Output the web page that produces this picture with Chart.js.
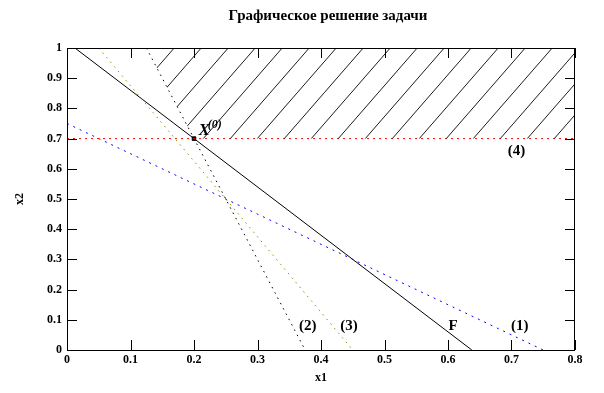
<!DOCTYPE html>
<html>
<head>
<meta charset="utf-8">
<script src="https://cdn.jsdelivr.net/npm/chart.js@4.4.1/dist/chart.umd.min.js"></script>
<style>
  html, body { margin: 0; padding: 0; background: #fff; }
  #wrap { width: 604px; height: 393px; position: relative; }
</style>
</head>
<body>
<div id="wrap"><canvas id="c"></canvas></div>
<script>
// ── Data ─────────────────────────────────────────────────────
const titleText = 'Графическое решение задачи';
const xTitle = 'x1';
const yTitle = 'x2';

// constraint lines, endpoints on the frame
const line1 = [{ x: 0, y: 0.75 }, { x: 0.75, y: 0 }];       // (1) blue
const line2 = [{ x: 0.125, y: 1 }, { x: 0.375, y: 0 }];     // (2) black dotted
const line3 = [{ x: 0.05, y: 1 }, { x: 0.45, y: 0 }];       // (3) olive
const line4 = [{ x: 0, y: 0.7 }, { x: 0.8, y: 0.7 }];       // (4) red
const lineF = [{ x: 0.0125, y: 1 }, { x: 0.6375, y: 0 }];   // F objective

// feasible region boundary (hatched above it)
const regionEdge = [{ x: 0.125, y: 1 }, { x: 0.2, y: 0.7 }, { x: 0.8, y: 0.7 }];

// optimum point X(0)
const optimum = [{ x: 0.2, y: 0.7 }];

// line labels
const labelText = ['(1)', '(2)', '(3)', '(4)', 'F'];
const labelX = [0.713, 0.379, 0.444, 0.708, 0.608];
const labelY = [0.080, 0.080, 0.080, 0.657, 0.080];

const xMin = 0, xMax = 0.8, xStep = 0.1;
const yMin = 0, yMax = 1, yStep = 0.1;

// ── Hatch pattern ───────────────────────────────────────────
function makeHatch() {
  const W = 27, H = 31;
  const cv = document.createElement('canvas');
  cv.width = W; cv.height = H;
  const g = cv.getContext('2d');
  g.strokeStyle = '#000';
  g.lineWidth = 0.9;
  g.beginPath();
  g.moveTo(-1, H + H / W);
  g.lineTo(W + 1, -H / W);
  g.stroke();
  return g.createPattern(cv, 'repeat');
}

const SERIF = "'Liberation Serif', 'Times New Roman', serif";

// ── Frame, inward ticks, title and labels ───────────────────
const decor = {
  id: 'decor',
  afterDatasetsDraw(chart) {
    const { ctx, chartArea: a, scales: { x, y } } = chart;
    ctx.save();
    ctx.strokeStyle = '#000';
    ctx.lineWidth = 1;
    ctx.strokeRect(a.left + 0.5, a.top + 0.5, a.right - a.left - 1, a.bottom - a.top);
    ctx.beginPath();
    x.ticks.forEach(t => {
      const px = Math.round(x.getPixelForValue(t.value)) + 0.5;
      ctx.moveTo(px, a.bottom); ctx.lineTo(px, a.bottom - 10);
      ctx.moveTo(px, a.top); ctx.lineTo(px, a.top + 10);
    });
    y.ticks.forEach(t => {
      const py = Math.round(y.getPixelForValue(t.value)) + 0.5;
      ctx.moveTo(a.left, py); ctx.lineTo(a.left + 10, py);
      ctx.moveTo(a.right, py); ctx.lineTo(a.right - 10, py);
    });
    ctx.stroke();

    // line labels
    ctx.fillStyle = '#000';
    ctx.font = 'bold 15px ' + SERIF;
    ctx.textAlign = 'center';
    ctx.textBaseline = 'middle';
    labelText.forEach((s, i) => {
      ctx.fillText(s, x.getPixelForValue(labelX[i]), y.getPixelForValue(labelY[i]));
    });

    // X(0) label
    const lx = x.getPixelForValue(0.207), ly = y.getPixelForValue(0.712);
    ctx.textAlign = 'left';
    ctx.textBaseline = 'alphabetic';
    ctx.font = 'italic bold 17px ' + SERIF;
    ctx.fillText('X', lx, ly);
    const w = ctx.measureText('X').width;
    ctx.font = 'italic bold 12px ' + SERIF;
    ctx.fillText('(0)', lx + w - 2, ly - 7);

    // title
    ctx.font = 'bold 15px ' + SERIF;
    ctx.textAlign = 'center';
    ctx.textBaseline = 'middle';
    ctx.fillText(titleText, 328, 16);
    ctx.restore();
  }
};

function lineDs(data, color, dash, width) {
  return {
    data, showLine: true, borderColor: color, borderWidth: width || 1,
    borderDash: dash, pointRadius: 0, fill: false, tension: 0
  };
}

new Chart(document.getElementById('c'), {
  type: 'scatter',
  data: {
    datasets: [
      {
        data: regionEdge, showLine: true, borderWidth: 0, borderColor: 'rgba(0,0,0,0)',
        backgroundColor: makeHatch(), fill: 'end', pointRadius: 0
      },
      lineDs(line4, '#ff0000', [2, 4]),
      lineDs(line1, '#0000ff', [2, 5]),
      lineDs(line3, '#909000', [1.5, 4.5]),
      lineDs(line2, '#000000', [1.5, 4.5]),
      lineDs(lineF, '#000000', []),
      {
        data: optimum, pointStyle: 'rect', pointRadius: 2.5,
        backgroundColor: '#000', borderColor: '#000', showLine: false
      }
    ]
  },
  options: {
    responsive: true, maintainAspectRatio: false,
    animation: false,
    layout: { padding: { top: 48, right: 29, left: 0, bottom: 0 } },
    scales: {
      x: {
        type: 'linear', min: xMin, max: xMax,
        afterFit: s => { s.height = 43; },
        ticks: {
          stepSize: xStep, color: '#000', padding: 3,
          font: { family: SERIF, size: 12, weight: 'bold' },
          callback: v => +v.toFixed(1)
        },
        grid: { display: false, drawTicks: false },
        border: { display: false },
        title: {
          display: true, text: xTitle, color: '#000',
          font: { family: SERIF, size: 12, weight: 'bold' },
          padding: { top: 0, bottom: 8 }
        }
      },
      y: {
        type: 'linear', min: yMin, max: yMax,
        afterFit: s => { s.width = 67; },
        ticks: {
          stepSize: yStep, color: '#000', padding: 5,
          font: { family: SERIF, size: 12, weight: 'bold' },
          callback: v => +v.toFixed(1)
        },
        grid: { display: false, drawTicks: false },
        border: { display: false },
        title: {
          display: true, text: yTitle, color: '#000',
          font: { family: SERIF, size: 12, weight: 'bold' },
          padding: { top: 13, bottom: 0 }
        }
      }
    },
    plugins: {
      legend: { display: false },
      title: { display: false },
      tooltip: { enabled: false }
    }
  },
  plugins: [decor]
});
</script>
</body>
</html>
